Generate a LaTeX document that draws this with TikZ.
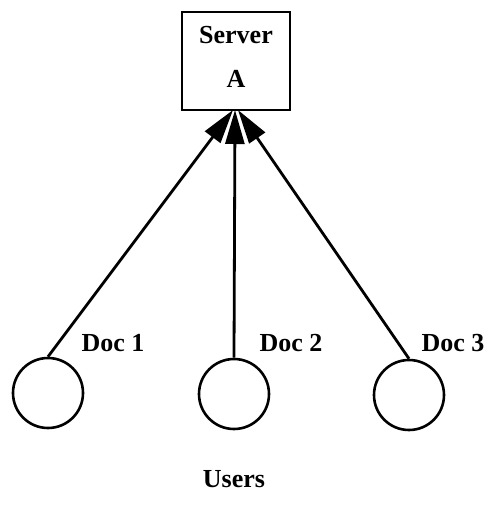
\documentclass[tikz,border=0pt]{standalone}
\usepackage{fontspec}
\setmainfont{Liberation Serif}
\usetikzlibrary{arrows.meta}
\begin{document}
\begin{tikzpicture}[x=1pt,y=-1pt,
  lbl/.style={font=\bfseries\fontsize{26}{29}\selectfont, inner sep=0pt},
  user/.style={draw, circle, line width=2.6pt, minimum size=70pt, inner sep=0pt},
  link/.style={line width=2.8pt, -{Triangle[length=34pt,width=19pt]}}]
  \useasboundingbox (0,0) rectangle (487,507);
  % server box
  \node[draw, line width=1.8pt, minimum width=108pt, minimum height=98pt, inner sep=0pt] (srv) at (236,61) {};
  \node[lbl] (srvname) at (236,35) {Server};
  \node[lbl] (srvid) at (236,79) {A};
  \coordinate (tipL) at (233,110);
  \coordinate (tipM) at (235,110);
  \coordinate (tipR) at (238,110);
  % users
  \node[user] (u1) at (48,393) {};
  \node[user] (u2) at (234,394) {};
  \node[user] (u3) at (409,395) {};
  \draw[link] (u1.north) -- (tipL);
  \draw[link] (u2.north) -- (tipM);
  \draw[link] (u3.north) -- (tipR);
  % labels
  \node[lbl] (d1) at (113,343) {Doc 1};
  \node[lbl] (d2) at (291,343) {Doc 2};
  \node[lbl] (d3) at (453,343) {Doc 3};
  \node[lbl] (users) at (234,479) {Users};
\end{tikzpicture}
\end{document}
